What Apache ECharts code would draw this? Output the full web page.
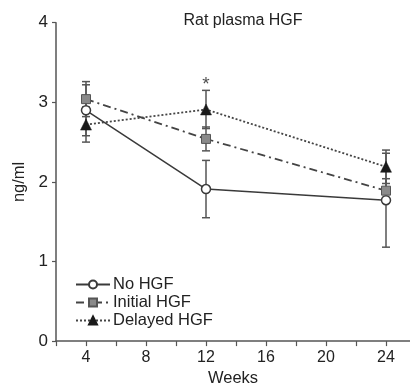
<!DOCTYPE html>
<html>
<head>
<meta charset="utf-8">
<script src="https://cdn.jsdelivr.net/npm/echarts@6/dist/echarts.min.js"></script>
<style>html,body{margin:0;padding:0;background:#fff}#c{width:410px;height:392px}</style>
</head>
<body>
<div id="c"></div>
<script>
var weeks = [4, 12, 24];
var noHGF = [2.90, 1.91, 1.77];
var noHGFErr = [0.32, 0.36, 0.59];
var initialHGF = [3.04, 2.54, 1.89];
var initialHGFErr = [0.22, 0.15, 0.15];
var delayedHGF = [2.72, 2.91, 2.19];
var delayedHGFErr = [0.22, 0.24, 0.21];
var seriesNames = ['No HGF', 'Initial HGF', 'Delayed HGF'];
var xTicks = [4, 8, 12, 16, 20, 24];
var yTicks = [0, 1, 2, 3, 4];
var annotation = [[12, 3.22, '*']];

var FONT = 'Liberation Sans, Arial, sans-serif';
var AX = '#555';

function pairs(ys){ return weeks.map(function(w,i){ return [w, ys[i]]; }); }
function errData(ys, es){ return weeks.map(function(w,i){ return [w, ys[i]-es[i], ys[i]+es[i]]; }); }

function errRender(params, api){
  var x = api.value(0);
  var lo = api.coord([x, api.value(1)]);
  var hi = api.coord([x, api.value(2)]);
  var cw = 4;
  var st = {stroke: '#555', lineWidth: 1.5};
  return {type:'group', children:[
    {type:'line', shape:{x1:lo[0],y1:lo[1],x2:hi[0],y2:hi[1]}, style:st},
    {type:'line', shape:{x1:lo[0]-cw,y1:lo[1],x2:lo[0]+cw,y2:lo[1]}, style:st},
    {type:'line', shape:{x1:hi[0]-cw,y1:hi[1],x2:hi[0]+cw,y2:hi[1]}, style:st}
  ]};
}

var chart = echarts.init(document.getElementById('c'));
chart.setOption({
  animation: false,
  backgroundColor: '#fff',
  title: {
    text: 'Rat plasma HGF', left: 238, top: 8, textAlign: 'center',
    textStyle: {fontFamily: FONT, fontSize: 16, fontWeight: 'normal', color: '#222'}
  },
  legend: {
    orient: 'vertical', left: 75, top: 276, padding: 0,
    itemWidth: 34, itemHeight: 10, itemGap: 1,
    data: seriesNames,
    textStyle: {fontFamily: FONT, fontSize: 16.5, color: '#222', padding: [0,0,0,-2]}
  },
  grid: {left: 56, right: 0, top: 22.7, bottom: 44.3},
  xAxis: {
    type: 'value', min: 2, max: 25.6, interval: 2,
    name: 'Weeks', nameLocation: 'middle', nameGap: 26,
    nameTextStyle: {fontFamily: FONT, fontSize: 16.5, color: '#222'},
    axisLine: {lineStyle: {color: AX, width: 1.5}},
    axisTick: {show: true, length: 5, lineStyle: {color: AX, width: 1.2}},
    axisLabel: {
      fontFamily: FONT, fontSize: 16, color: '#222', margin: 8,
      showMaxLabel: false,
      formatter: function(v){ return xTicks.indexOf(v) >= 0 ? String(v) : ''; }
    },
    splitLine: {show: false}
  },
  yAxis: {
    type: 'value', min: 0, max: 4, interval: 1,
    name: 'ng/ml', nameLocation: 'middle', nameGap: 25, nameRotate: 90,
    nameTextStyle: {fontFamily: FONT, fontSize: 16.5, color: '#222'},
    axisLine: {show: true, lineStyle: {color: AX, width: 1.5}},
    axisTick: {show: true, length: 4, lineStyle: {color: AX, width: 1.2}},
    axisLabel: {
      fontFamily: FONT, fontSize: 17, color: '#222', margin: 8,
      formatter: function(v){ return yTicks.indexOf(v) >= 0 ? String(v) : ''; }
    },
    splitLine: {show: false}
  },
  series: [
    {type: 'custom', name: 'errNo', renderItem: errRender, data: errData(noHGF, noHGFErr), z: 1, silent: true},
    {type: 'custom', name: 'errInit', renderItem: errRender, data: errData(initialHGF, initialHGFErr), z: 1, silent: true},
    {type: 'custom', name: 'errDel', renderItem: errRender, data: errData(delayedHGF, delayedHGFErr), z: 1, silent: true},
    {
      type: 'line', name: seriesNames[0], data: pairs(noHGF), z: 3,
      symbol: 'circle', symbolSize: 9, showAllSymbol: true,
      lineStyle: {color: '#3a3a3a', width: 1.5, type: 'solid'},
      itemStyle: {color: '#fff', borderColor: '#3a3a3a', borderWidth: 1.5}
    },
    {
      type: 'line', name: seriesNames[1], data: pairs(initialHGF), z: 4,
      symbol: 'rect', symbolSize: 9,
      lineStyle: {color: '#444', width: 1.8, type: [8, 4, 2, 4]},
      itemStyle: {color: '#8a8a8a', borderColor: '#555', borderWidth: 1}
    },
    {
      type: 'line', name: seriesNames[2], data: pairs(delayedHGF), z: 5,
      symbol: 'triangle', symbolSize: 11,
      lineStyle: {color: '#444', width: 1.8, type: [2, 2]},
      itemStyle: {color: '#1a1a1a', borderColor: '#1a1a1a', borderWidth: 0.5}
    },
    {
      type: 'scatter', name: 'annotation', data: annotation, symbolSize: 0, silent: true,
      label: {show: true, position: 'inside', formatter: function(p){ return p.data[2]; },
        fontFamily: FONT, fontSize: 19, color: '#222'}
    }
  ]
});
</script>
</body>
</html>
